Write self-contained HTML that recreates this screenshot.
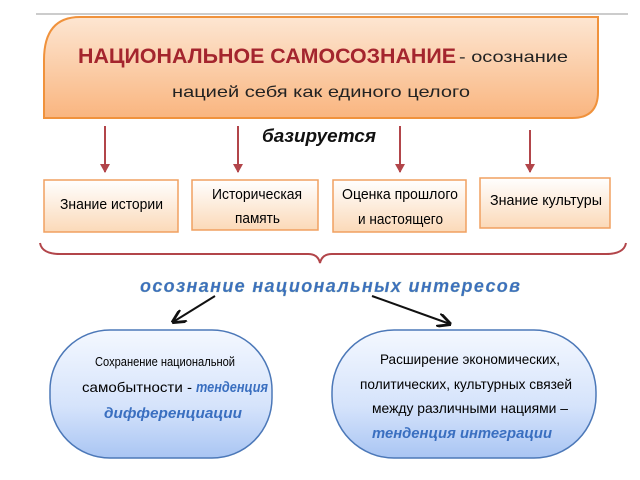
<!DOCTYPE html>
<html><head><meta charset="utf-8"><style>
html,body{margin:0;padding:0;background:#fff;width:640px;height:480px;overflow:hidden}
svg text{font-family:"Liberation Sans",sans-serif}
</style></head><body>
<svg width="640" height="480" viewBox="0 0 640 480" xmlns="http://www.w3.org/2000/svg">
<defs>
<linearGradient id="og" x1="0" y1="0" x2="0" y2="1"><stop offset="0" stop-color="#fde6d2"/><stop offset="1" stop-color="#f9b57f"/></linearGradient>
<linearGradient id="bx" x1="0" y1="0" x2="0" y2="1"><stop offset="0" stop-color="#fff"/><stop offset="1" stop-color="#fbd9b8"/></linearGradient>
<linearGradient id="bg" x1="0" y1="0" x2="0" y2="1"><stop offset="0" stop-color="#f4f8ff"/><stop offset="0.6" stop-color="#d5e3fb"/><stop offset="1" stop-color="#a9c5f3"/></linearGradient>
<marker id="ra" markerWidth="10" markerHeight="10" refX="8" refY="5" orient="auto" markerUnits="userSpaceOnUse"><path d="M0,0 L9,5 L0,10 z" fill="#b2454a"/></marker>
<marker id="ka" viewBox="0 0 10 10" markerWidth="14" markerHeight="14" refX="9" refY="5" orient="auto" markerUnits="userSpaceOnUse"><path d="M0,0 L10,5 L0,10" fill="none" stroke="#111" stroke-width="2"/></marker>
</defs>
<line x1="36" y1="14" x2="628" y2="14" stroke="#bbb" stroke-width="1.5"/>
<path d="M80,17 H598 V92 Q598,118 572,118 H44 V60 Q44,17 80,17 Z" fill="url(#og)" stroke="#f0923c" stroke-width="2"/>
<text x="78" y="63" font-size="21" font-weight="bold" fill="#a4252e" textLength="378" lengthAdjust="spacingAndGlyphs">НАЦИОНАЛЬНОЕ САМОСОЗНАНИЕ</text>
<text x="459" y="62" font-size="16" fill="#222" textLength="109" lengthAdjust="spacingAndGlyphs">- осознание</text>
<text x="172" y="97" font-size="16" fill="#222" textLength="298" lengthAdjust="spacingAndGlyphs">нацией себя как единого целого</text>
<g stroke="#b2454a" stroke-width="2" marker-end="url(#ra)">
<line x1="105" y1="126" x2="105" y2="172"/><line x1="238" y1="126" x2="238" y2="172"/><line x1="400" y1="126" x2="400" y2="172"/><line x1="530" y1="130" x2="530" y2="172"/>
</g>
<text x="262" y="142" font-size="18" font-weight="bold" font-style="italic" fill="#111" textLength="114" lengthAdjust="spacingAndGlyphs">базируется</text>
<g stroke="#f0a060" stroke-width="1.5" fill="url(#bx)">
<rect x="44" y="180" width="134" height="52"/><rect x="192" y="180" width="126" height="50"/><rect x="333" y="180" width="133" height="52"/><rect x="480" y="178" width="130" height="50"/>
</g>
<g font-size="15" fill="#000">
<text x="60" y="209" textLength="103" lengthAdjust="spacingAndGlyphs">Знание истории</text>
<text x="212" y="199" textLength="90" lengthAdjust="spacingAndGlyphs">Историческая</text><text x="235" y="223" textLength="45" lengthAdjust="spacingAndGlyphs">память</text>
<text x="342" y="199" textLength="116" lengthAdjust="spacingAndGlyphs">Оценка прошлого</text><text x="358" y="224" textLength="85" lengthAdjust="spacingAndGlyphs">и настоящего</text>
<text x="490" y="205" textLength="112" lengthAdjust="spacingAndGlyphs">Знание культуры</text>
</g>
<path d="M40,243 Q42,254 60,254 H308 Q318,254 320,263 Q322,254 332,254 H606 Q624,254 626,243" fill="none" stroke="#b2454a" stroke-width="2"/>
<text x="140" y="292" font-size="18" font-weight="bold" font-style="italic" fill="#3a6fc0" stroke="#8aa" stroke-width="0.3" textLength="380" lengthAdjust="spacing">осознание национальных интересов</text>
<g stroke="#111" stroke-width="2" marker-end="url(#ka)">
<line x1="215" y1="296" x2="173" y2="322"/><line x1="372" y1="296" x2="450" y2="324"/>
</g>
<rect x="50" y="330" width="222" height="128" rx="60" fill="url(#bg)" stroke="#4c78b8" stroke-width="1.5"/>
<rect x="332" y="330" width="264" height="128" rx="62" fill="url(#bg)" stroke="#4c78b8" stroke-width="1.5"/>
<g font-size="14" fill="#000">
<text x="95" y="366" font-size="13" textLength="140" lengthAdjust="spacingAndGlyphs">Сохранение национальной</text>
<text x="82" y="392" textLength="110" lengthAdjust="spacingAndGlyphs">самобытности -</text>
<text x="380" y="364" textLength="180" lengthAdjust="spacingAndGlyphs">Расширение экономических,</text>
<text x="360" y="389" textLength="212" lengthAdjust="spacingAndGlyphs">политических, культурных связей</text>
<text x="372" y="413" textLength="196" lengthAdjust="spacingAndGlyphs">между различными нациями –</text>
</g>
<g font-size="15" font-weight="bold" font-style="italic" fill="#3a6fc0">
<text x="196" y="392" textLength="72" lengthAdjust="spacingAndGlyphs">тенденция</text>
<text x="104" y="418" textLength="138" lengthAdjust="spacingAndGlyphs">дифференциации</text>
<text x="372" y="438" textLength="180" lengthAdjust="spacingAndGlyphs">тенденция интеграции</text>
</g>
</svg>
</body></html>
